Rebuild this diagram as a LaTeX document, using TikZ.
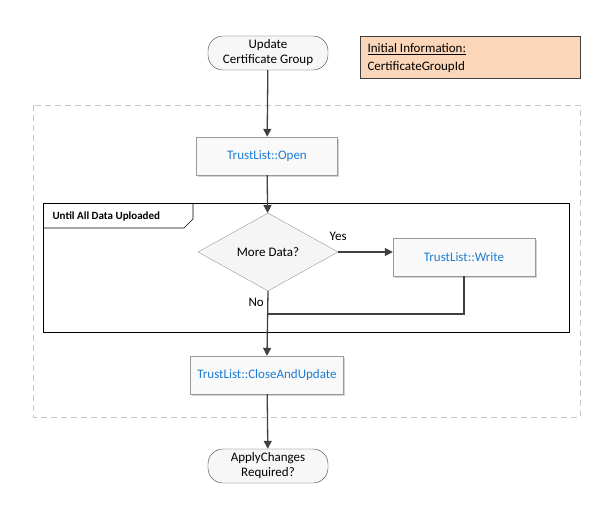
\documentclass[tikz,border=0pt]{standalone}
\usepackage{fontspec}
\setmainfont{Carlito}
\usetikzlibrary{positioning, shapes.geometric, arrows.meta, shadows}

\definecolor{opblue}{RGB}{28,124,213}
\definecolor{linegray}{RGB}{64,64,64}
\definecolor{infofill}{RGB}{251,214,184}

\tikzset{
	terminal/.style={draw=linegray, rounded corners=15pt, fill=gray!6, minimum width=120pt, minimum height=34pt, align=center, inner sep=1pt, font=\fontsize{13}{15}\selectfont},
	opbox/.style={draw=gray!80, fill=gray!5, minimum height=38pt, text=opblue, font=\fontsize{13}{15}\selectfont, drop shadow={shadow xshift=1.5pt, shadow yshift=-1.5pt, opacity=0.35}},
	decision/.style={diamond, draw=gray!80, fill=gray!8, aspect=1.8, minimum width=140pt, minimum height=78pt, inner sep=0pt, font=\fontsize{13}{15}\selectfont},
	flow/.style={draw=linegray, line width=1.3pt, -{Triangle[length=8pt, width=8pt]}},
	line/.style={draw=linegray, line width=1.3pt},
	lbl/.style={font=\fontsize{13}{15}\selectfont},
}

\begin{document}
\begin{tikzpicture}[x=1pt, y=-1pt]
	\useasboundingbox (0,0) rectangle (613,519);
	
	% outer dashed region and loop frame
	\draw[gray!45, dashed, dash pattern=on 6pt off 4pt] (33,105) rectangle (580,417);
	\draw[black, line width=0.7pt] (43,203) rectangle (569,332);
	\draw[black, line width=0.7pt] (43,228) -- (184,228) -- (193,219) -- (193,203);
	\node[anchor=west, font=\fontsize{11}{13}\selectfont\bfseries] (looplbl) at (49,216) {Until All Data Uploaded};
	
	% nodes
	\node[terminal] (start) at (268,53) {Update\\Certificate Group};
	\node[draw=linegray, fill=infofill, minimum width=220pt, minimum height=42pt, anchor=north west] (info) at (360,36) {};
	\node[anchor=west, align=left, font=\fontsize{13}{18}\selectfont] (infotxt) at (364,58) {\underline{Initial Information:}\\CertificateGroupId};
	
	\node[opbox, minimum width=141pt] (open) at (267,156) {TrustList::Open};
	\node[decision] (more) at (268,252) {More Data?};
	\node[opbox, minimum width=142pt] (write) at (464,257) {TrustList::Write};
	\node[opbox, minimum width=153pt] (close) at (267,375) {TrustList::CloseAndUpdate};
	\node[terminal] (done) at (268,466) {ApplyChanges\\Required?};
	
	\coordinate (join) at (268,314);
	
	% connectors
	\draw[flow] (start) -- (open);
	\draw[flow] (open) -- (more);
	\draw[flow] (more.east) -- node[pos=0.0, above=7pt, lbl] (yes) {Yes} (write.west |- more.east);
	\draw[line] (write.south) |- (join);
	\draw[flow] (more.south) -- node[pos=0.18, left, lbl] (no) {No} (close.north);
	\draw[flow] (close) -- (done);
\end{tikzpicture}
\end{document}
